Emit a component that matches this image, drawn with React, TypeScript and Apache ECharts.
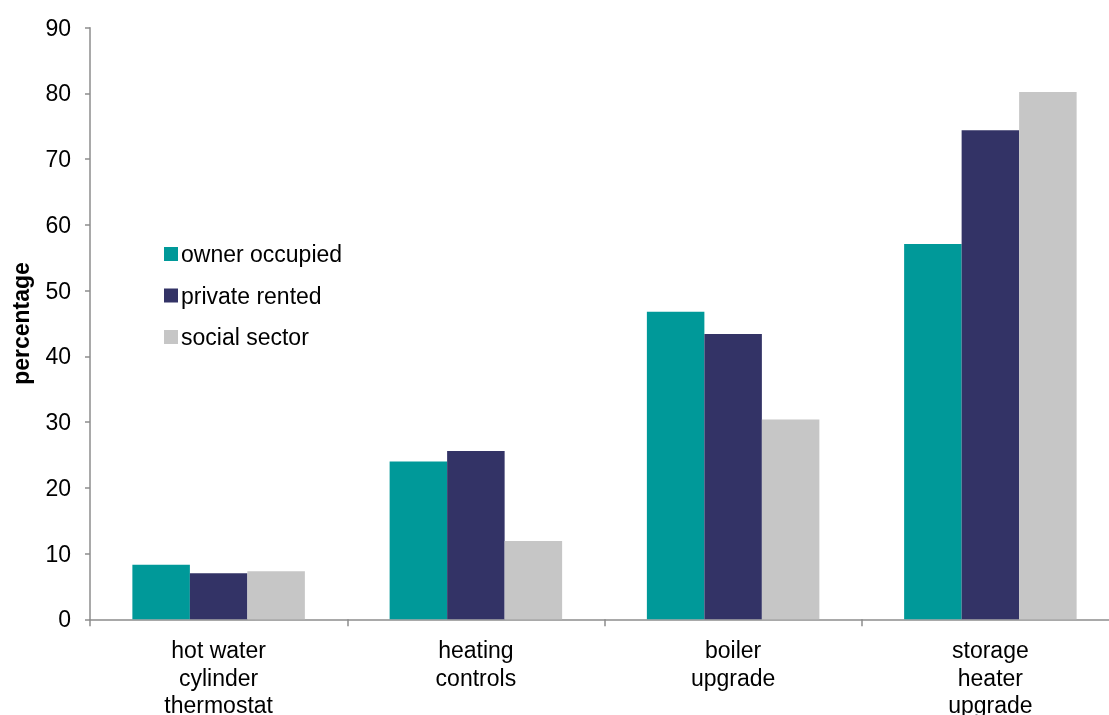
import React, { useEffect, useRef } from "react";
import * as echarts from "echarts";

const categories = ["hot water\ncylinder\nthermostat", "heating\ncontrols", "boiler\nupgrade", "storage\nheater\nupgrade"];
const ownerOccupied = [8.3, 24.0, 46.8, 57.1];
const privateRented = [7.0, 25.6, 43.4, 74.4];
const socialSector = [7.3, 11.9, 30.4, 80.2];
const seriesNames = ["owner occupied", "private rented", "social sector"];
const colors = ["#009999", "#333366", "#C6C6C6"];

const FONT = "'Liberation Sans', Arial, sans-serif";

export default function App() {
  const ref = useRef<HTMLDivElement>(null);
  useEffect(() => {
    if (!ref.current) return;
    const chart = echarts.init(ref.current, undefined, { renderer: "svg" });
    const data = [ownerOccupied, privateRented, socialSector];
    chart.setOption({
      animation: false,
      textStyle: { fontFamily: FONT },
      grid: { left: 90, top: 27.7, width: 1029, height: 591.6, containLabel: false, outerBoundsMode: "none" },
      legend: {
        orient: "vertical",
        left: 164,
        top: 242.5,
        padding: 0,
        itemWidth: 14,
        itemHeight: 14,
        itemGap: 18.5,
        icon: "rect",
        data: seriesNames,
        textStyle: { fontSize: 23, color: "#000", fontFamily: FONT, padding: [0, 0, 0, -2] },
      },
      xAxis: {
        type: "category",
        data: categories,
        axisLine: { lineStyle: { color: "#8c8c8c", width: 1.5 } },
        axisTick: { show: true, length: 7, lineStyle: { color: "#8c8c8c", width: 1.5 } },
        axisLabel: { fontSize: 23, color: "#000", lineHeight: 27.5, margin: 17, fontFamily: FONT, interval: 0 },
      },
      yAxis: {
        type: "value",
        min: 0,
        max: 90,
        interval: 10,
        name: "percentage",
        nameLocation: "middle",
        nameGap: 58,
        nameRotate: 90,
        nameTextStyle: { fontSize: 23, fontWeight: "bold", color: "#000", fontFamily: FONT },
        splitLine: { show: false },
        axisLine: { show: true, lineStyle: { color: "#8c8c8c", width: 1.5 } },
        axisTick: { show: true, length: 5, lineStyle: { color: "#8c8c8c", width: 1.5 } },
        axisLabel: { fontSize: 23, color: "#000", margin: 19, fontFamily: FONT },
      },
      series: seriesNames.map((name, i) => ({
        name,
        type: "bar",
        data: data[i],
        barWidth: 57.5,
        barGap: "0%",
        itemStyle: { color: colors[i] },
      })),
    });
    return () => chart.dispose();
  }, []);
  return <div ref={ref} style={{ width: 1109, height: 715, position: "fixed", left: 0, top: 0 }} />;
}
